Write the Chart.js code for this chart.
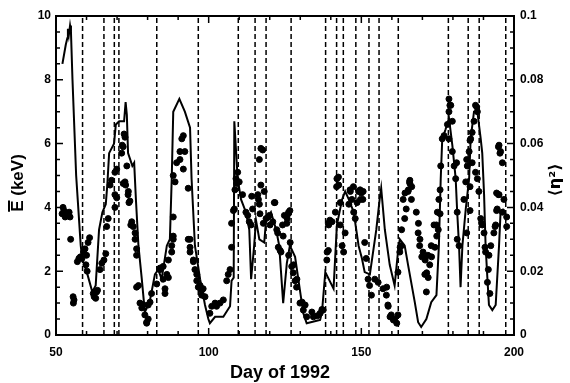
<!DOCTYPE html>
<html>
<head>
<meta charset="utf-8">
<script src="https://cdn.jsdelivr.net/npm/chart.js@4.4.1/dist/chart.umd.min.js"></script>
<style>
  body { margin: 0; background: #fff; }
  #wrap { width: 570px; height: 383px; }
</style>
</head>
<body>
<div id="wrap"><canvas id="chart" width="570" height="383"></canvas></div>
<script>
// mean energy (solid line), keV
const lineDays = [52.1, 53.2, 53.7, 53.9, 54.2, 54.6, 54.9, 55.4, 56.6, 58.1, 58.6, 60.3, 61.9, 63.0, 64.1, 65.2, 66.3, 66.8, 67.4, 69.0,
  69.6, 70.7, 72.3, 72.8, 73.2, 73.6, 75.0, 75.6, 76.2, 77.0, 78.1, 79.1, 80.2, 80.8, 82.4, 83.5, 84.6, 86.3, 87.3, 87.9,
  88.4, 90.4, 92.2, 93.9, 94.4, 95.5, 97.2, 98.8, 99.9, 100.4, 102.1, 104.8, 107.0, 107.5, 108.2, 108.4, 109.5, 110.6, 112.2, 113.3,
  113.9, 114.9, 115.5, 116.6, 118.2, 118.8, 120.4, 122.1, 123.1, 124.4, 125.6, 126.6, 128.3, 129.9, 131.0, 132.1, 136.5, 137.1, 138.2, 140.9,
  142.0, 143.7, 144.7, 145.9, 147.5, 149.1, 150.2, 151.1, 152.8, 154.9, 156.0, 156.5, 157.7, 159.3, 160.9, 162.0, 162.6, 164.2, 165.3, 167.5,
  168.6, 169.6, 171.3, 172.9, 174.6, 175.4, 176.0, 176.5, 177.6, 178.7, 179.8, 180.9, 181.4, 182.0, 182.5, 183.1, 184.2, 185.3, 185.8, 186.9,
  188.0, 189.1, 189.6, 190.2, 190.7, 191.3, 191.8, 192.9, 194.0, 195.1, 195.6, 196.7];
const lineEnergy = [8.5, 9.1, 9.3, 9.6, 9.4, 9.7, 9.5, 8.0, 5.0, 2.8, 2.4, 1.9, 1.35, 1.55, 3.3, 3.85, 4.1, 4.7, 5.7, 6.0,
  6.6, 6.7, 6.7, 7.3, 6.9, 5.7, 5.3, 5.4, 4.2, 2.8, 1.75, 0.72, 0.94, 1.1, 1.9, 2.05, 1.75, 2.8, 3.0, 4.9,
  7.0, 7.4, 7.0, 6.5, 4.9, 2.8, 1.75, 0.94, 0.5, 0.37, 0.57, 0.57, 0.9, 1.7, 1.8, 6.7, 4.9, 4.25, 3.85, 3.3,
  1.75, 2.8, 3.6, 3.0, 2.9, 3.6, 3.85, 3.3, 2.8, 1.0, 2.25, 2.8, 2.45, 1.4, 0.68, 0.37, 0.47, 0.7, 1.97, 1.45,
  3.45, 4.25, 4.5, 4.25, 3.85, 2.8, 2.4, 1.97, 1.9, 3.3, 4.25, 4.6, 3.3, 2.2, 1.55, 2.6, 3.0, 2.8, 2.2, 1.03,
  0.4, 0.25, 0.5, 1.03, 1.25, 2.8, 4.9, 6.15, 6.45, 6.8, 5.95, 4.9, 3.85, 2.8, 1.5, 2.8, 3.95, 4.9, 6.15, 7.0,
  7.0, 6.15, 5.7, 4.4, 2.8, 1.75, 0.94, 0.78, 0.94, 2.8, 3.85, 3.95];

// <eta^2> (dots), right axis
const dotDays = [52.0, 52.6, 53.3, 53.9, 54.3, 54.6, 52.3, 53.0, 54.8, 55.6, 55.7, 55.9,
  57.0, 57.5, 58.0, 58.5, 59.0, 59.5, 60.0, 60.5, 61.0, 59.8, 60.2,
  62.2, 62.5, 63.0, 63.3, 63.6,
  64.4, 65.0, 65.7, 66.3, 66.6, 67.1, 69.3, 69.3, 67.7, 69.9,
  68.2, 69.3, 69.9, 71.5, 71.7, 72.0, 72.3, 72.6, 73.2, 72.6, 73.7, 72.8, 73.6, 73.9, 74.5, 72.0,
  74.2, 74.8, 75.3, 75.9, 75.9, 76.4, 76.4, 76.4, 77.0, 77.5, 78.1, 78.6, 79.1, 79.7, 79.7, 80.2, 80.2, 80.8, 81.3,
  83.0, 84.1, 84.1, 85.1, 85.1, 85.7, 85.7, 86.3, 86.8, 86.8, 87.9, 87.9, 88.4, 88.4, 88.4,
  88.4, 89.0, 89.5, 90.6, 91.2, 91.7, 90.6, 92.2, 91.7, 93.3,
  93.9, 93.9, 93.3, 93.9, 95.0, 95.0, 95.5, 96.1, 96.1, 96.6, 97.2, 97.7, 97.7, 98.2, 98.8,
  100.4, 101.0, 102.1, 102.6, 103.7, 104.8, 105.9, 106.4, 107.0, 107.5, 107.5, 108.1, 108.6, 109.2,
  108.4, 108.95, 109.5, 110.0, 111.1, 112.2, 112.8, 113.3, 113.9, 114.4, 114.1,
  116.1, 116.3, 116.6, 116.8, 116.6, 117.1, 117.7, 117.1, 118.2, 117.9, 118.8, 119.5, 119.9, 120.1, 121.0, 121.5, 121.7, 122.3, 122.6, 122.8, 123.4, 123.7, 124.2, 124.4, 124.8,
  125.6, 125.7, 126.1, 126.2, 126.6, 126.7, 126.2, 127.2, 127.7, 127.8, 128.3, 128.8, 128.9,
  129.9, 130.6, 131.0, 131.6, 132.1, 133.8, 134.3, 135.5, 136.5, 137.1, 137.5,
  138.7, 138.8, 139.2, 139.2, 139.3, 139.7, 140.4, 141.5, 142.0, 142.5, 141.9, 142.6, 143.1, 143.1, 143.7, 144.2, 144.7, 145.9, 146.4, 146.3, 146.9, 147.4, 147.5, 148.0, 148.6, 149.1, 149.6, 149.7, 150.0, 150.5, 150.6,
  151.1, 151.6, 152.2, 152.7, 153.3, 154.4, 155.5, 157.1, 158.2, 158.3, 158.7, 158.8, 159.4, 159.8, 160.5, 160.9, 161.6, 162.0,
  162.0, 162.6, 162.7, 163.1, 163.2, 163.7, 164.2, 164.3, 164.7, 165.3, 165.4, 165.8, 165.9, 166.4, 166.5, 165.9,
  168.0, 168.6, 168.7, 169.1, 169.2, 169.8, 170.2, 170.8, 170.9, 171.4, 171.8, 171.9, 172.4, 172.9, 173.0, 170.8, 171.3,
  174.1, 174.6, 174.7, 173.8, 174.9, 175.2, 175.4, 175.8, 175.8, 176.0, 176.5, 177.1, 178.2, 178.7, 178.7, 179.0, 179.3, 179.8, 178.7, 179.8, 180.4, 180.9, 181.2, 181.4, 181.4, 182.0,
  183.6, 184.2, 184.5, 184.5, 184.7, 185.3, 185.6, 185.6, 185.8, 185.6, 186.3, 186.9, 187.4, 187.8, 188.0, 186.3, 187.4, 188.0, 188.5, 189.1, 189.4, 189.6, 190.2, 190.5, 190.7, 191.3, 191.6, 191.8, 192.1, 192.4,
  193.4, 193.8, 194.0, 194.3, 194.5, 194.9, 194.3, 195.1, 194.9, 195.1, 195.4, 195.6, 196.2, 196.7, 196.2, 197.6, 197.6];
const dotEta = [0.038, 0.039, 0.038, 0.0375, 0.0385, 0.037, 0.040, 0.037, 0.030, 0.012, 0.010, 0.011,
  0.023, 0.024, 0.0245, 0.024, 0.026, 0.027, 0.025, 0.029, 0.0305, 0.022, 0.020,
  0.013, 0.012, 0.0115, 0.0135, 0.014,
  0.0205, 0.0225, 0.0235, 0.0255, 0.034, 0.0365, 0.040, 0.044, 0.047, 0.043,
  0.0485, 0.051, 0.052, 0.057, 0.0595, 0.059, 0.063, 0.062, 0.053, 0.048, 0.045, 0.047, 0.044, 0.0415, 0.0345, 0.0475,
  0.042, 0.0355, 0.034, 0.032, 0.030, 0.027, 0.025, 0.015, 0.0155, 0.010, 0.0085, 0.0095, 0.0063, 0.004, 0.0037, 0.005, 0.0094, 0.0103, 0.013,
  0.016, 0.0205, 0.021, 0.0215, 0.0175, 0.0145, 0.013, 0.019, 0.018, 0.0235, 0.026, 0.028, 0.031, 0.030, 0.037,
  0.050, 0.048, 0.054, 0.0575, 0.0615, 0.0625, 0.055, 0.0575, 0.052, 0.046,
  0.030, 0.026, 0.030, 0.0275, 0.023, 0.0235, 0.0205, 0.019, 0.017, 0.015, 0.0155, 0.0125, 0.014, 0.0145, 0.012,
  0.0068, 0.009, 0.010, 0.009, 0.010, 0.011, 0.017, 0.019, 0.0205, 0.0275, 0.035, 0.039, 0.0455, 0.0475,
  0.0395, 0.049, 0.051, 0.048, 0.044, 0.0385, 0.0375, 0.0355, 0.0345, 0.0395, 0.0435,
  0.044, 0.0425, 0.041, 0.038, 0.055, 0.0585, 0.058, 0.047, 0.045, 0.035, 0.0365, 0.037, 0.0375, 0.0345, 0.0355, 0.0415, 0.0415, 0.033, 0.032, 0.0275, 0.0265, 0.026, 0.0345, 0.031, 0.0375,
  0.035, 0.0365, 0.038, 0.0385, 0.039, 0.029, 0.025, 0.0215, 0.0195, 0.022, 0.017, 0.015, 0.0175,
  0.010, 0.0103, 0.0078, 0.0094, 0.0057, 0.0072, 0.0057, 0.006, 0.0068, 0.008, 0.0078,
  0.0235, 0.026, 0.0265, 0.035, 0.0345, 0.036, 0.0355, 0.0385, 0.049, 0.0495, 0.0465, 0.047, 0.0415, 0.0345, 0.028, 0.026, 0.032, 0.041, 0.045, 0.0455, 0.0425, 0.0465, 0.0385, 0.0365, 0.0415, 0.045, 0.0455, 0.0425, 0.0445, 0.0425, 0.045,
  0.029, 0.024, 0.0175, 0.0155, 0.0125, 0.0175, 0.0165, 0.0145, 0.0125, 0.015, 0.0094, 0.009, 0.0057, 0.0063, 0.0047, 0.005, 0.0037, 0.0063,
  0.0197, 0.026, 0.0275, 0.028, 0.033, 0.0425, 0.0365, 0.0445, 0.0395, 0.045, 0.0455, 0.048, 0.0475, 0.0425, 0.0465, 0.0485,
  0.0385, 0.032, 0.035, 0.028, 0.030, 0.0245, 0.026, 0.024, 0.0235, 0.0195, 0.025, 0.018, 0.022, 0.028, 0.0245, 0.019, 0.0135,
  0.0275, 0.0345, 0.031, 0.0345, 0.0385, 0.033, 0.0425, 0.038, 0.0455, 0.053, 0.0615, 0.0625, 0.066, 0.070, 0.074, 0.072, 0.072, 0.067, 0.0615, 0.0575, 0.053, 0.049, 0.054, 0.0385, 0.030, 0.028,
  0.0425, 0.048, 0.032, 0.055, 0.053, 0.0575, 0.039, 0.0465, 0.0615, 0.061, 0.0635, 0.067, 0.072, 0.0715, 0.070, 0.054, 0.051, 0.049, 0.045, 0.0365, 0.035, 0.0345, 0.032, 0.0275, 0.026, 0.0165, 0.0205, 0.025, 0.013, 0.028,
  0.032, 0.034, 0.0345, 0.039, 0.0395, 0.044, 0.0445, 0.044, 0.059, 0.0595, 0.057, 0.0575, 0.054, 0.0425, 0.0385, 0.037, 0.034];

// dashed event markers (day)
const eventDays = [58.7, 65.7, 69.1, 70.6, 83.0, 96.6, 109.7, 115.2, 118.8, 127.0, 138.3, 141.9, 144.1, 148.2, 152.5, 155.8, 162.1, 178.5, 185.0, 188.6, 197.3];

const dayTicks = [50, 100, 150, 200];
const energyTicks = [0, 2, 4, 6, 8, 10];
const etaTicks = [0, 0.02, 0.04, 0.06, 0.08, 0.1];

Chart.defaults.font.family = '"Liberation Sans", Arial, sans-serif';
Chart.defaults.font.weight = 'bold';
Chart.defaults.font.size = 12;
Chart.defaults.color = '#000';

const datasets = [];
eventDays.forEach(d => {
  datasets.push({
    data: [{ x: d, y: 0 }, { x: d, y: 10 }],
    showLine: true, borderColor: '#000', borderWidth: 1.5, borderDash: [5, 3],
    pointRadius: 0, yAxisID: 'y'
  });
});
datasets.push({
  data: lineDays.map((d, i) => ({ x: d, y: lineEnergy[i] })),
  showLine: true, borderColor: '#000', borderWidth: 2, pointRadius: 0, yAxisID: 'y'
});
datasets.push({
  data: dotDays.map((d, i) => ({ x: d, y: dotEta[i] })),
  showLine: false, pointRadius: 3, pointBackgroundColor: '#000', pointBorderColor: '#000',
  pointBorderWidth: 1, yAxisID: 'y2'
});

// inward ticks + axis titles
const decor = {
  id: 'decor',
  afterDraw(chart) {
    const { ctx, chartArea: a, scales } = chart;
    ctx.save();
    ctx.strokeStyle = '#000';
    ctx.lineWidth = 1.5;
    ctx.beginPath();
    for (let v = 0; v <= 10.001; v += 0.5) {
      const y = scales.y.getPixelForValue(v);
      const len = Math.abs(v % 2) < 0.01 ? 7 : 4;
      ctx.moveTo(a.left, y); ctx.lineTo(a.left + len, y);
    }
    for (let v = 0; v <= 0.1001; v += 0.005) {
      const y = scales.y2.getPixelForValue(v);
      const len = Math.abs(Math.round(v * 1000) % 20) < 1 ? 7 : 4;
      ctx.moveTo(a.right, y); ctx.lineTo(a.right - len, y);
    }
    for (let d = 50; d <= 200; d += 10) {
      const x = scales.x.getPixelForValue(d);
      const len = d % 50 === 0 ? 7 : 4;
      ctx.moveTo(x, a.bottom); ctx.lineTo(x, a.bottom - len);
      ctx.moveTo(x, a.top); ctx.lineTo(x, a.top + len);
    }
    ctx.stroke();

    ctx.fillStyle = '#000';
    ctx.font = 'bold 18px "Liberation Sans", Arial, sans-serif';
    ctx.textAlign = 'center';
    ctx.textBaseline = 'middle';
    ctx.fillText('Day of 1992', 280, 373);

    // left title with overbar on E
    ctx.save();
    ctx.translate(18, 183);
    ctx.rotate(-Math.PI / 2);
    ctx.font = 'bold 17px "Liberation Sans", Arial, sans-serif';
    const full = ctx.measureText('E (keV)').width;
    const ew = ctx.measureText('E').width;
    ctx.textAlign = 'left';
    ctx.fillText('E (keV)', -full / 2, 0);
    ctx.lineWidth = 2;
    ctx.beginPath();
    ctx.moveTo(-full / 2, -9); ctx.lineTo(-full / 2 + ew, -9);
    ctx.stroke();
    ctx.restore();

    ctx.save();
    ctx.translate(556, 180);
    ctx.rotate(-Math.PI / 2);
    ctx.font = 'bold 16px "DejaVu Sans", "Liberation Sans", sans-serif';
    ctx.textAlign = 'center';
    ctx.fillText('\u27E8\u03B7\u00B2\u27E9', 0, 0);
    ctx.restore();
    ctx.restore();
  }
};

new Chart(document.getElementById('chart'), {
  type: 'scatter',
  data: { datasets },
  options: {
    responsive: false,
    animation: false,
    devicePixelRatio: 1,
    layout: { padding: 0 },
    plugins: { legend: { display: false }, tooltip: { enabled: false } },
    scales: {
      x: {
        type: 'linear', position: 'bottom', min: 50, max: 200,
        afterBuildTicks: s => { s.ticks = dayTicks.map(v => ({ value: v })); },
        afterFit: s => { s.height = 48; },
        grid: { display: false, drawTicks: false },
        border: { color: '#000', width: 2 },
        ticks: { padding: 10, font: { size: 12, weight: 'bold' } }
      },
      x2: {
        type: 'linear', position: 'top', min: 50, max: 200,
        afterFit: s => { s.height = 16; },
        grid: { display: false, drawTicks: false },
        border: { color: '#000', width: 2 },
        ticks: { display: false }
      },
      y: {
        position: 'left', min: 0, max: 10,
        afterBuildTicks: s => { s.ticks = energyTicks.map(v => ({ value: v })); },
        afterFit: s => { s.width = 56; },
        grid: { display: false, drawTicks: false },
        border: { color: '#000', width: 2 },
        ticks: { padding: 5 }
      },
      y2: {
        position: 'right', min: 0, max: 0.1,
        afterBuildTicks: s => { s.ticks = etaTicks.map(v => ({ value: v })); },
        afterFit: s => { s.width = 56; },
        grid: { display: false, drawTicks: false },
        border: { color: '#000', width: 2 },
        ticks: { padding: 6, callback: v => String(v) }
      }
    }
  },
  plugins: [decor]
});
</script>
</body>
</html>
